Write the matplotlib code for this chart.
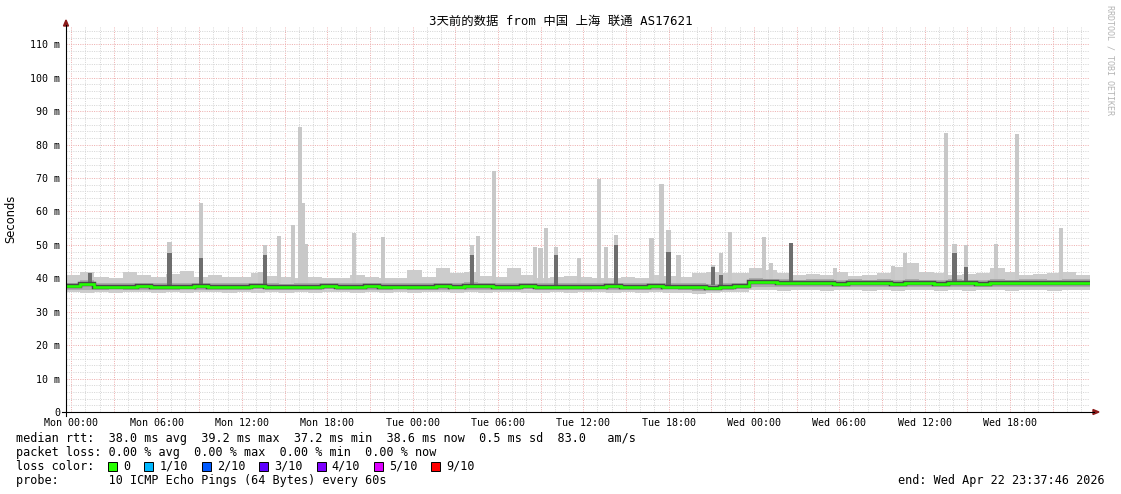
import matplotlib.pyplot as plt
import numpy as np
from matplotlib.patches import Rectangle, Polygon
from matplotlib.lines import Line2D

W, H, DPI = 1121, 494, 100

# hourly bins, hours relative to Mon 00:00 (first bin starts Sun 23:38)
bin_start = -0.37
median_rtt = [37.6, 38.3, 37.4, 37.5, 37.4, 37.6, 37.5, 37.3, 37.5, 37.6, 37.4, 37.5,
              37.4, 37.6, 37.5, 37.3, 37.5, 37.4, 37.6, 37.5, 37.4, 37.6, 37.5, 37.4,
              37.5, 37.3, 37.6, 37.5, 37.7, 37.6, 37.5, 37.4, 37.6, 37.5, 37.3, 37.4,
              37.5, 37.4, 37.6, 37.5, 37.4, 37.6, 37.5, 37.3, 37.4, 37.2, 37.5, 37.6,
              39.0, 38.8, 38.6, 38.5, 38.7, 38.6, 38.4, 38.6, 38.5, 38.7, 38.4, 38.6,
              38.5, 38.3, 38.6, 38.5, 38.4, 38.6, 38.5, 38.7, 38.6, 38.5, 38.6, 38.6]
smoke_low = [35.9, 35.6, 35.8, 35.7, 35.9, 35.8, 35.6, 35.8, 35.7, 35.9, 35.8, 35.7,
             35.8, 35.6, 35.9, 35.7, 35.8, 35.6, 35.8, 35.9, 35.7, 35.8, 35.6, 35.8,
             35.7, 35.9, 35.8, 35.6, 35.8, 35.7, 35.9, 35.8, 35.7, 35.6, 35.8, 35.7,
             35.9, 35.8, 35.7, 35.8, 35.6, 35.8, 35.7, 35.5, 35.2, 35.6, 35.8, 35.9,
             36.6, 36.5, 36.3, 36.4, 36.5, 36.3, 36.4, 36.5, 36.3, 36.4, 36.2, 36.4,
             36.5, 36.3, 36.4, 36.2, 36.4, 36.5, 36.3, 36.4, 36.5, 36.3, 36.4, 36.5]
inner_low = [36.6, 36.5, 36.6, 36.7, 36.6, 36.5, 36.6, 36.6, 36.7, 36.6, 36.5, 36.6,
             36.6, 36.7, 36.6, 36.5, 36.6, 36.6, 36.7, 36.6, 36.5, 36.6, 36.6, 36.7,
             36.6, 36.5, 36.6, 36.7, 36.6, 36.6, 36.5, 36.6, 36.7, 36.6, 36.5, 36.6,
             36.6, 36.7, 36.6, 36.5, 36.6, 36.6, 36.7, 36.5, 36.3, 36.4, 36.6, 36.7,
             37.5, 37.4, 37.3, 37.4, 37.5, 37.3, 37.4, 37.4, 37.3, 37.5, 37.3, 37.4,
             37.4, 37.3, 37.4, 37.3, 37.4, 37.5, 37.3, 37.4, 37.5, 37.4, 37.4, 37.5]
inner_high = [38.6, 39.4, 38.5, 38.6, 38.7, 38.6, 38.5, 38.6, 38.7, 38.6, 38.5, 38.6,
              38.5, 38.7, 38.6, 38.4, 38.6, 38.5, 38.6, 38.6, 38.5, 38.7, 38.6, 38.5,
              38.7, 38.5, 38.7, 38.6, 38.8, 38.7, 38.6, 38.5, 38.7, 38.6, 38.5, 38.5,
              38.6, 38.5, 38.7, 38.6, 38.5, 38.7, 38.6, 38.5, 38.6, 38.4, 38.6, 38.7,
              40.2, 39.9, 39.7, 39.6, 39.8, 39.7, 39.6, 39.7, 39.6, 39.8, 39.6, 39.7,
              39.6, 39.5, 39.7, 39.6, 39.5, 39.7, 39.6, 39.8, 39.7, 39.6, 39.7, 39.7]
smoke_high = [41.0, 41.8, 40.5, 40.2, 42.0, 41.0, 40.5, 41.2, 42.2, 40.5, 41.0, 40.4,
              40.5, 41.5, 40.8, 40.5, 40.2, 40.5, 40.0, 40.2, 41.0, 40.5, 40.2, 40.0,
              42.5, 40.5, 43.0, 41.5, 42.0, 40.8, 40.5, 43.0, 41.0, 40.2, 40.5, 40.8,
              40.5, 40.2, 40.0, 40.5, 40.2, 41.0, 40.8, 40.5, 41.5, 42.0, 41.5, 41.5,
              43.0, 42.5, 41.5, 41.0, 41.2, 41.0, 42.0, 40.8, 41.0, 41.5, 43.5, 44.5,
              42.0, 41.5, 41.0, 41.2, 41.5, 43.0, 41.8, 41.0, 41.2, 41.5, 41.8, 41.0]

# single high pings (light smoke) and clusters of high pings (dark smoke)
spike_hours = [6.9, 9.1, 13.3, 13.6, 14.6, 15.6, 16.1, 16.3, 16.5, 19.9, 21.9,
               28.2, 28.6, 29.7, 32.6, 33.0, 33.4, 34.1, 35.7, 37.1, 37.6, 38.3,
               40.8, 41.5, 42.0, 42.7, 45.1, 45.7, 46.3, 48.7, 49.2, 50.6, 53.7,
               57.8, 58.6, 61.5, 62.1, 62.9, 65.0, 66.5, 69.6]
spike_tops = [51.0, 62.5, 42.0, 50.0, 52.6, 56.0, 85.3, 62.5, 50.2, 53.6, 52.3,
              50.0, 52.6, 72.0, 49.4, 49.0, 55.0, 49.4, 46.0, 69.7, 49.4, 53.0,
              52.0, 68.2, 54.4, 47.0, 44.0, 47.7, 53.8, 52.3, 44.5, 50.6, 43.0,
              43.7, 47.5, 83.5, 50.3, 50.0, 50.2, 83.2, 55.0]
dark_hours = [1.3, 6.9, 9.1, 13.6, 28.2, 34.1, 38.3, 42.0, 45.1, 45.7, 50.6, 62.1, 62.9]
dark_tops = [41.5, 47.5, 46.0, 47.0, 47.0, 47.0, 50.0, 48.0, 43.5, 41.0, 50.6, 47.6, 43.5]

tick_hours = [0, 6, 12, 18, 24, 30, 36, 42, 48, 54, 60, 66]
tick_labels = ['Mon 00:00', 'Mon 06:00', 'Mon 12:00', 'Mon 18:00',
               'Tue 00:00', 'Tue 06:00', 'Tue 12:00', 'Tue 18:00',
               'Wed 00:00', 'Wed 06:00', 'Wed 12:00', 'Wed 18:00']
y_ticks = [0, 10, 20, 30, 40, 50, 60, 70, 80, 90, 100, 110]
y_labels = ['0', '10 m', '20 m', '30 m', '40 m', '50 m', '60 m', '70 m',
            '80 m', '90 m', '100 m', '110 m']

loss_labels = ['0', '1/10', '2/10', '3/10', '4/10', '5/10', '9/10']
loss_colors = ['#26ff00', '#00b8ff', '#0059ff', '#5e00ff', '#7e00ff', '#dd00ff', '#ff0000']

title = '3天前的数据 from 中国 上海 联通 AS17621'
legend_lines = [
    'median rtt:  38.0 ms avg  39.2 ms max  37.2 ms min  38.6 ms now  0.5 ms sd  83.0   am/s',
    'packet loss: 0.00 % avg  0.00 % max  0.00 % min  0.00 % now',
    'loss color:',
    'probe:       10 ICMP Echo Pings (64 Bytes) every 60s',
]
end_text = 'end: Wed Apr 22 23:37:46 2026'

mono = 'DejaVu Sans Mono'


def fx(x):
    return x / W


def fy(y):
    return 1 - y / H


fig = plt.figure(figsize=(W / DPI, H / DPI), dpi=DPI, facecolor='white')
ax = fig.add_axes([fx(66), fy(412), (1090 - 66) / W, (412 - 27) / H])
ax.set_xlim(bin_start, bin_start + len(median_rtt))
ax.set_ylim(0, 115.2)
for s in ax.spines.values():
    s.set_visible(False)

# grid: gray every hour / 2 m, red every 3 h / 10 m
for h in range(0, 72):
    ax.axvline(h, color='#eeb0b0' if h % 3 == 0 else '#d6d6d6', lw=0.72,
               ls=(0, (1, 1.3)), zorder=0)
for v in range(2, 116, 2):
    ax.axhline(v, color='#eeb0b0' if v % 10 == 0 else '#d6d6d6', lw=0.72,
               ls=(0, (1, 1.3)), zorder=0)

edges = bin_start + np.arange(len(median_rtt) + 1)
ax.stairs(smoke_high, edges, baseline=smoke_low, fill=True, color='#cccccc', lw=0, zorder=2)
ax.bar(spike_hours, np.array(spike_tops) - 38, bottom=38, width=0.3,
       color='#c8c8c8', lw=0, zorder=2)
ax.stairs(inner_high, edges, baseline=inner_low, fill=True, color='#ababab', lw=0, zorder=3)
ax.bar(dark_hours, np.array(dark_tops) - 38, bottom=38, width=0.3,
       color='#6e6e6e', lw=0, zorder=3)
ax.stairs(median_rtt, edges, baseline=None, color='#4a4a4a', lw=3.2, zorder=4)
ax.stairs(median_rtt, edges, baseline=None, color='#22ff00', lw=1.9, zorder=5)

ax.set_xticks(tick_hours, tick_labels, fontsize=7.2, family=mono)
ax.tick_params(axis='x', length=0, pad=4)
ax.set_yticks(y_ticks, y_labels, fontsize=7.2, family=mono)
ax.tick_params(axis='y', length=0, pad=4.3)

# axes with arrow heads
fig.add_artist(Line2D([fx(66), fx(66)], [fy(416), fy(25)], color='black', lw=0.8,
                      transform=fig.transFigure))
fig.add_artist(Line2D([fx(62), fx(1094)], [fy(412), fy(412)], color='black', lw=0.8,
                      transform=fig.transFigure))
fig.add_artist(Polygon([(fx(63.5), fy(26)), (fx(68.5), fy(26)), (fx(66), fy(20))],
                       closed=True, color='#8b1a1a', transform=fig.transFigure))
fig.add_artist(Polygon([(fx(1093), fy(409.5)), (fx(1093), fy(414.5)), (fx(1099), fy(412))],
                       closed=True, color='#8b1a1a', transform=fig.transFigure))

fig.text(fx(560.5), fy(21), title, ha='center', va='center', fontsize=8.9,
         family=[mono, 'Noto Sans CJK SC'])
fig.text(fx(11), fy(219), 'Seconds', rotation=90, ha='center', va='center', fontsize=8.3)
fig.text(fx(1110), fy(60), 'RRDTOOL / TOBI OETIKER', rotation=270, ha='center',
         va='center', fontsize=6, color='#b4b4b4', family=mono)

char_w = 7.1
for i, line in enumerate(legend_lines):
    fig.text(fx(16), fy(438 + 14 * i), line, ha='left', va='center', fontsize=8.45, family=mono)
fig.text(fx(1105), fy(480), end_text, ha='right', va='center', fontsize=8.45, family=mono)

x = 16 + 13 * char_w
for lab, col in zip(loss_labels, loss_colors):
    fig.add_artist(Rectangle((fx(x), fy(470.5)), 9 / W, 9 / H, facecolor=col,
                             edgecolor='black', lw=0.7, transform=fig.transFigure))
    tx = x + 15
    fig.text(fx(tx), fy(466), lab, ha='left', va='center', fontsize=8.45, family=mono)
    x = tx + len(lab) * char_w + 14

fig.savefig('out.png', dpi=DPI, facecolor='white')
